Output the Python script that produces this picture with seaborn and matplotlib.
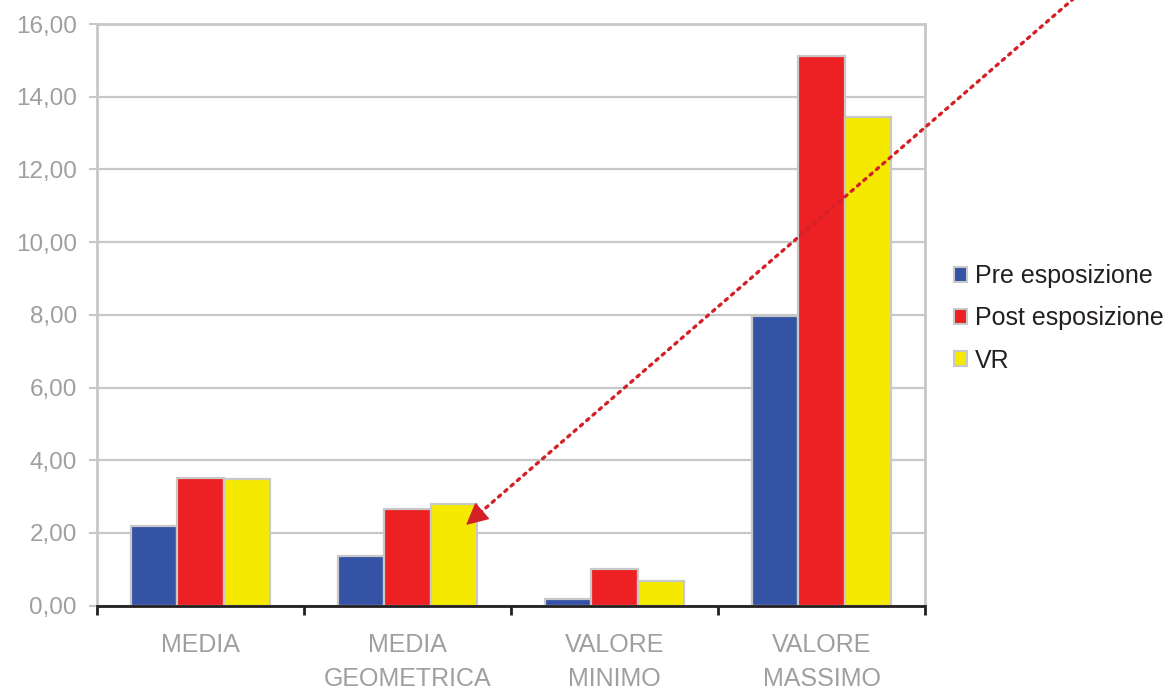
import matplotlib
matplotlib.use("Agg")
import matplotlib.pyplot as plt
import seaborn as sns
import pandas as pd
from matplotlib.ticker import FixedLocator, FuncFormatter, NullFormatter
from matplotlib.patches import Patch

categories = ["MEDIA", "MEDIA\nGEOMETRICA", "VALORE\nMINIMO", "VALORE\nMASSIMO"]
series = ["Pre esposizione", "Post esposizione", "VR"]
pre = [2.18, 1.37, 0.19, 7.97]
post = [3.51, 2.66, 1.01, 15.12]
vr = [3.48, 2.79, 0.69, 13.45]
colors = ["#3453a4", "#ed2024", "#f5e900"]

rows = []
for s, vals in zip(series, [pre, post, vr]):
    for c, v in zip(categories, vals):
        rows.append({"cat": c, "serie": s, "val": v})
df = pd.DataFrame(rows)

sns.set_style("white")
plt.rcParams["font.family"] = ["Liberation Sans", "DejaVu Sans"]

W, H = 1171, 689
fig = plt.figure(figsize=(W/100, H/100), dpi=100)
y0 = 605.7
ax = fig.add_axes([97/W, 1-y0/H, (925-97)/W, (y0-24)/H])

sns.barplot(data=df, x="cat", y="val", hue="serie", palette=colors, saturation=1,
            order=categories, hue_order=series, width=0.667, ax=ax,
            edgecolor="#c8c8c8", linewidth=1.6, legend=False, zorder=3)

ax.set_xlim(-0.5, 3.5)
ax.set_ylim(0, 16)
ax.set_xlabel("")
ax.set_ylabel("")

grid_c = "#c8c8c8"
lab_c = "#9f9f9f"
ax.yaxis.set_major_locator(FixedLocator([0, 2, 4, 6, 8, 10, 12, 14, 16]))
ax.yaxis.set_major_formatter(FuncFormatter(lambda v, p: f"{v:.2f}".replace(".", ",")))
ax.grid(axis="y", color=grid_c, linewidth=1.6, zorder=0)
ax.set_axisbelow(True)
ax.tick_params(axis="y", length=6, width=1.5, color=grid_c, labelcolor=lab_c,
               labelsize=17.5, pad=8.5, left=True)

ax.xaxis.set_major_locator(FixedLocator([-0.5, 0.5, 1.5, 2.5, 3.5]))
ax.xaxis.set_major_formatter(NullFormatter())
ax.tick_params(axis="x", which="major", length=6.5, width=2, color="#231f20", bottom=True)

xt = ax.get_xaxis_transform()
for i, c in enumerate(categories):
    ax.text(i, (y0 - 633) / (y0 - 24), c, transform=xt, ha="center", va="top",
            fontsize=18, color=lab_c, linespacing=1.55, clip_on=False)

for side in ["left", "right", "top"]:
    ax.spines[side].set_color(grid_c)
    ax.spines[side].set_linewidth(2)
    ax.spines[side].set_visible(True)
ax.spines["bottom"].set_color("#231f20")
ax.spines["bottom"].set_linewidth(2)
ax.spines["bottom"].set_zorder(5)

handles = [Patch(facecolor=c, edgecolor="#c8c8c8", linewidth=1.5) for c in colors]
fig.legend(handles, series, loc="center left", bbox_to_anchor=(931/W, 1-318.5/H),
           frameon=False, fontsize=18, handlelength=0.55, handleheight=0.55,
           handletextpad=0.32, labelspacing=0.72, labelcolor="#231f20")

# dotted line of the arrow
tip = (1.283, 2.22)
ax.annotate("", xy=tip, xycoords="data",
            xytext=(1080/W, 1.01), textcoords="figure fraction",
            arrowprops=dict(arrowstyle="-", color="#d42027",
                            linestyle=(0, (0.8, 1.7)), linewidth=2.4,
                            shrinkA=0, shrinkB=8),
            annotation_clip=False, zorder=6)
# solid arrow head
ax.annotate("", xy=tip, xycoords="data",
            xytext=(0.756 * 14, 0.654 * 14), textcoords="offset points",
            arrowprops=dict(arrowstyle="-|>,head_length=1.0,head_width=0.5",
                            color="#d42027", linewidth=1, shrinkA=0, shrinkB=0,
                            mutation_scale=14),
            annotation_clip=False, zorder=6)

fig.savefig("out.png", dpi=100)
